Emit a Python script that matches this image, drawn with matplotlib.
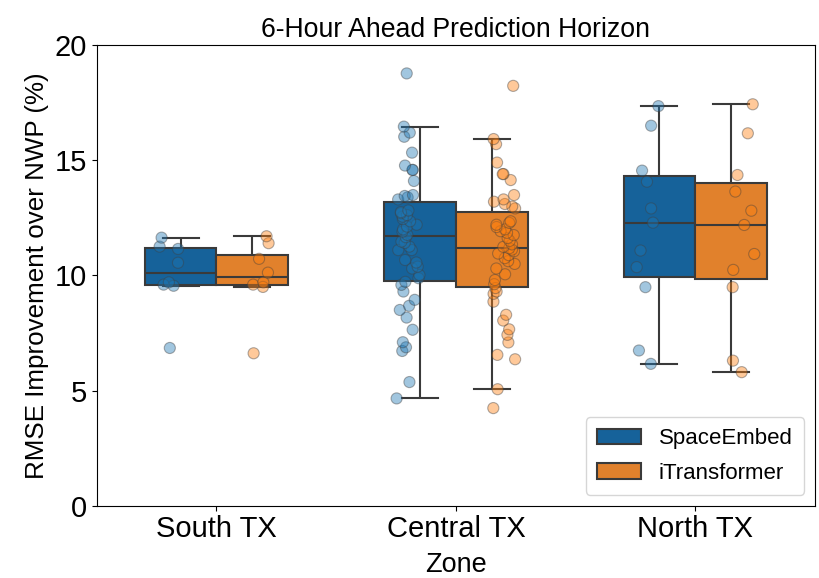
"""Box plot of RMSE improvement over NWP per zone, 6-hour horizon."""

import matplotlib

matplotlib.use("Agg")
import matplotlib.pyplot as plt
import numpy as np
import pandas as pd
import seaborn as sns

plt.rcParams["font.family"] = ["Liberation Sans", "DejaVu Sans"]

zones = ["South TX", "Central TX", "North TX"]
models = ["SpaceEmbed", "iTransformer"]

south_space = [6.85, 9.55, 9.6, 9.7, 10.55, 11.15, 11.25, 11.64]
south_itrans = [6.62, 9.5, 9.6, 9.7, 10.12, 10.72, 11.4, 11.7]

central_space = [
    4.66, 5.37, 6.72, 6.88, 7.1, 7.64, 8.17, 8.5, 8.68, 8.94, 9.3, 9.59,
    9.72, 9.88, 10.02, 10.3, 10.38, 10.56, 10.67, 11.1, 11.1, 11.25, 11.41,
    11.47, 11.66, 11.76, 11.9, 12.0, 12.12, 12.2, 12.35, 12.45, 12.55, 12.62,
    12.7, 12.75, 12.82,
    13.3, 13.39, 13.45, 13.49, 14.1, 14.58, 14.58, 14.77, 15.33, 16.02, 16.2,
    16.46, 18.77,
]
central_itrans = [
    4.24, 5.06, 6.36, 6.55, 7.09, 7.42, 7.66, 8.04, 8.29, 8.86, 9.2, 9.3,
    9.45, 9.62, 9.8, 10.05, 10.3, 10.5, 10.62, 10.75, 10.88, 10.95, 11.05,
    11.12, 11.18, 11.24, 11.35, 11.5, 11.62, 11.75, 11.85, 11.92, 12.0, 12.1,
    12.2, 12.28, 12.35,
    12.91, 12.99, 13.1, 13.2, 13.3, 13.49, 14.14, 14.4, 14.4, 14.9, 15.7,
    15.92, 18.23,
]

north_space = [6.16, 6.74, 9.49, 10.36, 11.08, 12.29, 12.91, 14.07, 14.55, 16.5, 17.35]
north_itrans = [5.8, 6.3, 9.49, 10.24, 10.93, 12.19, 12.81, 13.64, 14.36, 16.17, 17.43]

box_colors = ["#16629a", "#e1812c"]
point_colors = ["#1f77b4", "#ff7f0e"]

series = {
    ("South TX", "SpaceEmbed"): south_space,
    ("South TX", "iTransformer"): south_itrans,
    ("Central TX", "SpaceEmbed"): central_space,
    ("Central TX", "iTransformer"): central_itrans,
    ("North TX", "SpaceEmbed"): north_space,
    ("North TX", "iTransformer"): north_itrans,
}
rows = [
    {"zone": zone, "model": model, "value": v}
    for (zone, model), values in series.items()
    for v in values
]
df = pd.DataFrame(rows)

np.random.seed(3)
fig, ax = plt.subplots(figsize=(8.2, 5.78), dpi=100)
fig.subplots_adjust(left=0.118, right=0.994, bottom=0.125, top=0.922)

sns.boxplot(
    data=df, x="zone", y="value", hue="model", order=zones, hue_order=models,
    palette=box_colors, saturation=1, width=0.6, showfliers=False,
    linecolor="#3a3a3a", linewidth=1.5, ax=ax,
)
sns.stripplot(
    data=df, x="zone", y="value", hue="model", order=zones, hue_order=models,
    palette=point_colors, dodge=True, jitter=True, size=8, alpha=0.42,
    edgecolor="gray", linewidth=0.8, legend=False, ax=ax,
)

ax.set_ylim(0, 20)
ax.set_yticks([0, 5, 10, 15, 20])
ax.tick_params(axis="both", labelsize=21)
ax.set_xlabel("Zone", fontsize=19.5, labelpad=6)
ax.set_ylabel("RMSE Improvement over NWP (%)", fontsize=18.7)
ax.set_title("6-Hour Ahead Prediction Horizon", fontsize=19.2)
ax.legend(loc="lower right", fontsize=16, title=None, borderpad=0.5,
          labelspacing=0.6)

fig.savefig("out.png", dpi=100)
